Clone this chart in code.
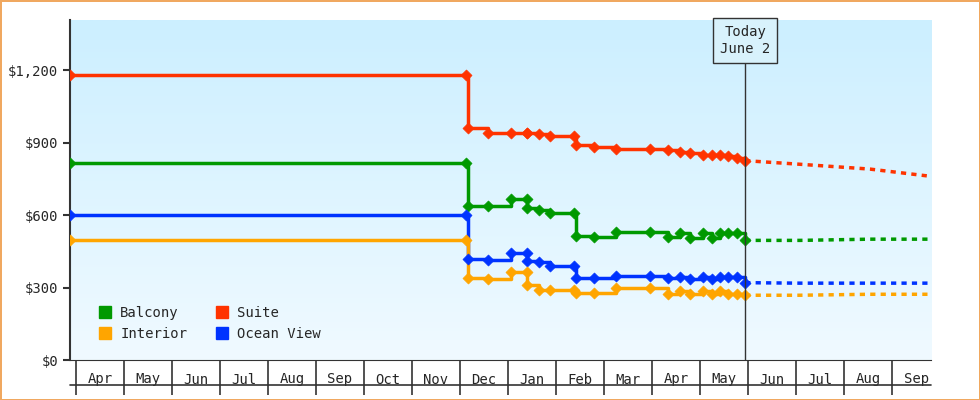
import numpy as np, pandas as pd, matplotlib
matplotlib.use("Agg")
import matplotlib.pyplot as plt, seaborn as sns
from matplotlib.lines import Line2D
from matplotlib.colors import LinearSegmentedColormap

sns.set_style("white")
plt.rcParams['font.family'] = ['DejaVu Sans Mono']

months = ["Apr","May","Jun","Jul","Aug","Sep","Oct","Nov","Dec","Jan","Feb","Mar","Apr","May","Jun","Jul","Aug","Sep"]
# x in months since start of first April
x_hist = [-0.125, 8.125, 8.17, 8.58, 9.06, 9.40, 9.40, 9.65, 9.88, 10.38, 10.42, 10.79, 11.25, 11.96, 12.33, 12.58, 12.79, 13.06, 13.25, 13.42, 13.58, 13.77, 13.94]
suite    = [1180, 1180, 960, 940, 940, 940, 940, 935, 925, 925, 890, 880, 875, 875, 870, 860, 855, 850, 850, 848, 845, 835, 825]
balcony  = [815, 815, 637, 637, 665, 665, 630, 620, 610, 610, 513, 510, 530, 530, 510, 525, 505, 525, 505, 525, 525, 525, 495]
ocean    = [600, 600, 417, 415, 444, 444, 410, 405, 390, 390, 338, 338, 348, 348, 340, 345, 335, 345, 335, 345, 345, 345, 320]
interior = [495, 495, 338, 335, 365, 365, 310, 290, 290, 290, 277, 277, 298, 298, 275, 285, 275, 285, 275, 285, 275, 275, 268]
x_fc = [13.94, 15.08, 16.54, 17.81]
suite_fc = [825, 810, 790, 760]
balcony_fc = [495, 495, 500, 500]
ocean_fc = [320, 318, 318, 318]
interior_fc = [268, 268, 272, 272]
names = ["Balcony", "Interior", "Suite", "Ocean View"]
colors = {"Balcony": "#009900", "Suite": "#ff3300", "Interior": "#ffa500", "Ocean View": "#0033ff"}

hist = {"Balcony": balcony, "Suite": suite, "Interior": interior, "Ocean View": ocean}
fc = {"Balcony": balcony_fc, "Suite": suite_fc, "Interior": interior_fc, "Ocean View": ocean_fc}

fig = plt.figure(figsize=(9.8, 4), dpi=100)
fig.patch.set_edgecolor("#f0a860"); fig.patch.set_linewidth(2)
ax = fig.add_axes([70/980, 0.1, 861/980, 0.85])
xmin, xmax = -0.125, 17.81
ymax = 1407
grad = np.linspace(0, 1, 256).reshape(-1, 1)
cmap = LinearSegmentedColormap.from_list("bg", ["#f0faff", "#ccefff"])
ax.imshow(grad, extent=[xmin, xmax, 0, ymax], origin="lower", aspect="auto", cmap=cmap, zorder=0)

for n in ["Suite", "Balcony", "Ocean View", "Interior"]:
    df = pd.DataFrame({"x": x_hist, "y": hist[n]})
    sns.lineplot(data=df, x="x", y="y", sort=False, estimator=None, drawstyle="steps-post",
                 color=colors[n], lw=2.5, ax=ax, zorder=3)
    sns.scatterplot(data=df, x="x", y="y", marker="D", s=32, color=colors[n], edgecolor=colors[n], ax=ax, zorder=4)
    dff = pd.DataFrame({"x": x_fc, "y": fc[n]})
    sns.lineplot(data=dff, x="x", y="y", sort=False, estimator=None, color=colors[n], lw=2.5,
                 linestyle=(0, (1.5, 1.5)), ax=ax, zorder=3)

ax.set_xlim(xmin, xmax); ax.set_ylim(0, ymax)
ax.set_yticks([0, 300, 600, 900, 1200])
ax.set_yticklabels(["$0", "$300", "$600", "$900", "$1,200"])
ax.set_xticks([i + 0.5 for i in range(len(months))])
ax.set_xticklabels(months)
ax.set_xticks(list(range(0, 18)), minor=True)
ax.tick_params(axis="x", which="major", length=0, pad=9, labelsize=10, bottom=True)
ax.tick_params(axis="x", which="minor", length=25, width=1.2, color="#333333", direction="out", bottom=True)
ax.tick_params(axis="y", length=5, width=1.5, color="#333333", labelsize=10, left=True)
ax.set_xlabel(""); ax.set_ylabel("")
for s in ["top", "right"]:
    ax.spines[s].set_visible(False)
ax.spines["left"].set_linewidth(1.5); ax.spines["left"].set_color("#333333")
ax.spines["bottom"].set_color("#333333")
ax.plot([0, 1], [-25/340, -25/340], transform=ax.transAxes, color="#333333", lw=1.2, clip_on=False)

ax.axvline(13.94, color="#333333", lw=1, zorder=5)
ax.text(13.94, 1322, "Today\nJune 2", ha="center", va="center", fontsize=10, zorder=6,
        bbox=dict(boxstyle="square,pad=0.5", fc="#d8f2fc", ec="#333333", lw=1))

handles = [Line2D([], [], marker="s", linestyle="", color=colors[n], markersize=9) for n in names]
ax.legend(handles, names, ncol=2, loc="lower left", bbox_to_anchor=(0.01, 0.02), frameon=False,
          handletextpad=0.1, columnspacing=1.5, fontsize=10, labelspacing=0.5)
fig.savefig("out.png", dpi=100)
